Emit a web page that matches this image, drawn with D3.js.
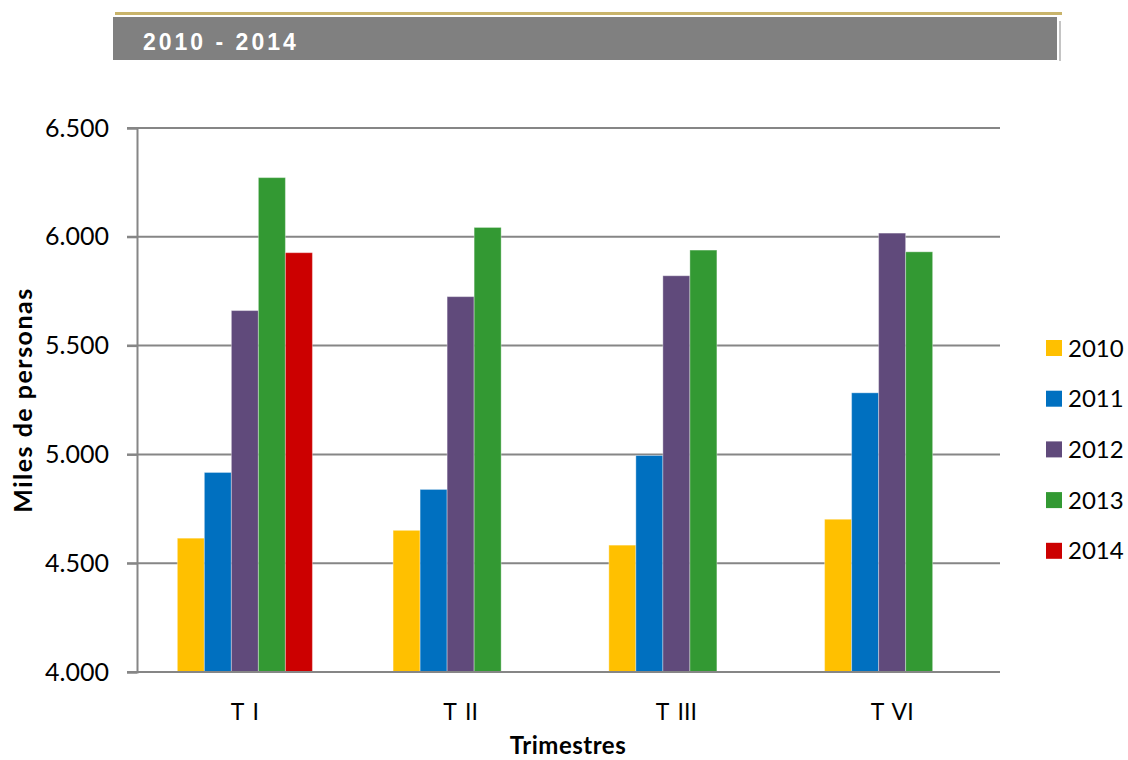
<!DOCTYPE html>
<html>
<head>
<meta charset="utf-8">
<script src="https://cdn.jsdelivr.net/npm/d3@7"></script>
<style>
  body { margin: 0; background: #fff; }
  svg text { font-family: Lato, "Open Sans", sans-serif; fill: #000; }
</style>
</head>
<body>
<div id="chart"></div>
<script>
'use strict';

var quarters = ['T I', 'T II', 'T III', 'T VI'];
var years = ['2010', '2011', '2012', '2013', '2014'];
var colors = ['#FFC000', '#0070C0', '#604A7B', '#339933', '#CC0000'];
// miles de personas, one array per year (null = no data yet)
var v2010 = [4615, 4651, 4583, 4702];
var v2011 = [4917, 4839, 4995, 5283];
var v2012 = [5661, 5725, 5821, 6017];
var v2013 = [6272, 6043, 5939, 5931];
var v2014 = [5927, null, null, null];
var yTicks = [4000, 4500, 5000, 5500, 6000, 6500];

(function () {
  var series = [v2010, v2011, v2012, v2013, v2014];
  var width = 1128, height = 760;
  var mLeft = 137, mRight = 1000, mTop = 128, mBottom = 672;

  var svg = d3.select('#chart').append('svg')
    .attr('width', width)
    .attr('height', height);

  // banner
  svg.append('rect').attr('x', 115).attr('y', 12).attr('width', 947).attr('height', 3).attr('fill', '#c9b46b');
  svg.append('rect').attr('x', 113).attr('y', 17).attr('width', 944).attr('height', 43).attr('fill', '#808080');
  svg.append('line').attr('x1', 1060).attr('x2', 1060).attr('y1', 21).attr('y2', 61)
    .attr('stroke', '#b0b0b0').attr('stroke-width', 1.5);
  svg.append('text')
    .attr('x', 143).attr('y', 50)
    .style('font-family', '"Liberation Sans Narrow", "Liberation Sans", Arial, sans-serif')
    .style('font-weight', 'bold')
    .style('font-size', '23px')
    .style('letter-spacing', '3px')
    .style('fill', '#fff')
    .text('2010 - 2014');

  var x0 = d3.scaleBand()
    .domain(quarters)
    .range([mLeft, mRight])
    .paddingInner(0.374)
    .paddingOuter(0.187);
  var x1 = d3.scaleBand()
    .domain(years)
    .range([0, x0.bandwidth()]);
  var y = d3.scaleLinear()
    .domain([4000, 6500])
    .range([mBottom, mTop]);

  // grid
  svg.append('g')
    .selectAll('line')
    .data(yTicks.slice(1))
    .enter()
    .append('line')
    .attr('x1', mLeft - 10).attr('x2', mRight)
    .attr('y1', function (d) { return y(d); })
    .attr('y2', function (d) { return y(d); })
    .attr('stroke', '#868686').attr('stroke-width', 2);

  // bars
  var groups = svg.append('g')
    .selectAll('g')
    .data(series)
    .enter()
    .append('g')
    .attr('fill', function (d, i) { return colors[i]; });

  groups.each(function (vals, i) {
    d3.select(this).selectAll('rect')
      .data(vals.map(function (v, j) { return {q: quarters[j], v: v}; })
        .filter(function (d) { return d.v != null; }))
      .enter()
      .append('rect')
      .attr('x', function (d) { return x0(d.q) + x1(years[i]); })
      .attr('y', function (d) { return y(d.v); })
      .attr('width', x1.bandwidth())
      .attr('height', function (d) { return mBottom - y(d.v); })
      .attr('stroke', 'rgba(255,255,255,0.35)')
      .attr('stroke-width', 1);
  });

  // y axis
  svg.append('g')
    .attr('transform', 'translate(' + mLeft + ',0)')
    .call(d3.axisLeft(y).tickValues(yTicks).tickSize(10).tickPadding(18).tickFormat(function (d) {
      return d3.format('.3f')(d / 1000);
    }))
    .call(function (g) {
      g.select('.domain').attr('stroke', '#868686').attr('stroke-width', 2);
      g.selectAll('.tick line').attr('stroke', '#868686').attr('stroke-width', 2);
      g.selectAll('.tick text').style('font-size', '25px').attr('fill', '#000');
    });

  // x axis
  svg.append('g')
    .attr('transform', 'translate(0,' + mBottom + ')')
    .call(d3.axisBottom(x0).tickSize(0).tickPadding(32))
    .call(function (g) {
      g.select('.domain').attr('stroke', '#868686').attr('stroke-width', 2)
        .attr('d', 'M' + (mLeft - 10) + ',0H' + mRight);
      g.selectAll('.tick text').style('font-size', '23px').style('word-spacing', '3px').attr('fill', '#000');
    });

  // axis titles
  svg.append('text')
    .attr('text-anchor', 'middle')
    .attr('transform', 'translate(32,400)rotate(-90)')
    .style('font-weight', 'bold')
    .style('font-size', '25px')
    .style('letter-spacing', '1.5px')
    .text('Miles de personas');
  svg.append('text')
    .attr('text-anchor', 'middle')
    .attr('x', 568).attr('y', 754)
    .style('font-weight', 'bold')
    .style('font-size', '24px')
    .style('letter-spacing', '0.5px')
    .text('Trimestres');

  // legend
  var legend = svg.append('g')
    .selectAll('g')
    .data(years)
    .enter()
    .append('g')
    .attr('transform', function (d, i) { return 'translate(1046,' + (348 + i * 50.7) + ')'; });
  legend.append('rect')
    .attr('x', 0).attr('y', -8).attr('width', 16).attr('height', 16)
    .attr('fill', function (d, i) { return colors[i]; });
  legend.append('text')
    .attr('x', 22).attr('dy', '0.36em')
    .style('font-size', '24px')
    .text(function (d) { return d; });
})();
</script>
</body>
</html>
